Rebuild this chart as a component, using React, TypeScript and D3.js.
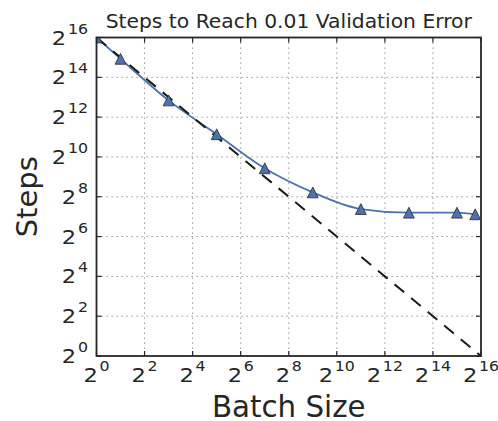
import React from "react";
import * as d3 from "d3";

const batchSizes = [1, 2, 8, 32, 128, 512, 2048, 8192, 32768, 55500];
const steps = [65536, 31200, 7330, 2257, 690, 298, 167, 147, 147, 139];
const idealBatch = [1, 65536];
const idealSteps = [65536, 1];
const tickExponents = [0, 2, 4, 6, 8, 10, 12, 14, 16];
const gridExponents = [2, 4, 6, 8, 10, 12, 14];

const W = 498;
const H = 421;
const L = 96.5;
const R = 481;
const T = 37.5;
const B = 356;
const FONT = "'DejaVu Sans', sans-serif";
const DARK = "#262626";
const BLUE = "#4c72b0";

// matplotlib-style '^' marker: width equals height, bbox centred on the point
const mplTriangle = {
  draw(ctx: any, size: number) {
    const h = Math.sqrt(size) / 2;
    ctx.moveTo(0, -h);
    ctx.lineTo(h, h);
    ctx.lineTo(-h, h);
    ctx.closePath();
  },
};

export default function App() {
  const x = d3.scaleLog().base(2).domain([1, 65536]).range([L, R]);
  const y = d3.scaleLog().base(2).domain([1, 65536]).range([B, T]);

  const line = d3
    .line<number>()
    .x((_, i) => x(batchSizes[i]))
    .y((d) => y(d))
    .curve(d3.curveMonotoneX);

  const ideal = d3
    .line<number>()
    .x((_, i) => x(idealBatch[i]))
    .y((d) => y(d));

  const tri = d3.symbol().type(mplTriangle as any).size(118)();

  const label = (e: number) => [
    <tspan key="b" fontSize={20}>2</tspan>,
    <tspan key="s" fontSize={14} dx={1.5} dy={-11}>
      {e}
    </tspan>,
  ];

  return (
    <svg
      width={W}
      height={H}
      style={{ position: "absolute", left: 0, top: 0 }}
      fontFamily={FONT}
    >
      <rect x={0} y={0} width={W} height={H} fill="#fff" />
      <defs>
        <clipPath id="plotClip">
          <rect x={L} y={T} width={R - L} height={B - T} />
        </clipPath>
      </defs>
      {gridExponents.map((e) => (
        <line
          key={"gx" + e}
          x1={x(2 ** e)}
          x2={x(2 ** e)}
          y1={T}
          y2={B}
          stroke="#8a8a8a"
          strokeWidth={1}
          strokeDasharray="1.3,3.7"
        />
      ))}
      {gridExponents.map((e) => (
        <line
          key={"gy" + e}
          x1={L}
          x2={R}
          y1={y(2 ** e)}
          y2={y(2 ** e)}
          stroke="#8a8a8a"
          strokeWidth={1}
          strokeDasharray="1.3,3.7"
        />
      ))}
      <g clipPath="url(#plotClip)">
        <path d={line(steps) || ""} fill="none" stroke={BLUE} strokeWidth={1.8} />
        <path
          d={ideal(idealSteps) || ""}
          fill="none"
          stroke="#1a1a1a"
          strokeWidth={2}
          strokeDasharray="12.5,9"
        />
        {steps.map((s, i) => (
          <path
            key={"m" + i}
            d={tri || ""}
            transform={`translate(${x(batchSizes[i])},${y(s)})`}
            fill={BLUE}
            stroke="#2a2a2a"
            strokeWidth={0.8}
          />
        ))}
      </g>
      {tickExponents.map((e) => (
        <g key={"t" + e}>
          <line x1={x(2 ** e)} x2={x(2 ** e)} y1={B} y2={B - 5} stroke={DARK} strokeWidth={1.2} />
          <line x1={x(2 ** e)} x2={x(2 ** e)} y1={T} y2={T + 5} stroke={DARK} strokeWidth={1.2} />
          <line x1={L} x2={L + 5} y1={y(2 ** e)} y2={y(2 ** e)} stroke={DARK} strokeWidth={1.2} />
          <line x1={R} x2={R - 5} y1={y(2 ** e)} y2={y(2 ** e)} stroke={DARK} strokeWidth={1.2} />
        </g>
      ))}
      <rect x={L} y={T} width={R - L} height={B - T} fill="none" stroke={DARK} strokeWidth={1.8} />
      {tickExponents.map((e) => (
        <text
          key={"xl" + e}
          transform={`translate(${x(2 ** e)},382) scale(1.13,1)`}
          textAnchor="middle"
          fill={DARK}
        >
          {label(e)}
        </text>
      ))}
      {tickExponents.map((e) => (
        <text
          key={"yl" + e}
          transform={`translate(88,${y(2 ** e) + 7}) scale(1.13,1)`}
          textAnchor="end"
          fill={DARK}
        >
          {label(e)}
        </text>
      ))}
      <text x={(L + R) / 2} y={28.3} textAnchor="middle" fontSize={20.3} fill={DARK}>
        Steps to Reach 0.01 Validation Error
      </text>
      <text x={(L + R) / 2} y={417} textAnchor="middle" fontSize={29.3} fill={DARK}>
        Batch Size
      </text>
      <text
        transform={`translate(36.5,${(T + B) / 2}) rotate(-90)`}
        textAnchor="middle"
        fontSize={29}
        fill={DARK}
      >
        Steps
      </text>
    </svg>
  );
}
